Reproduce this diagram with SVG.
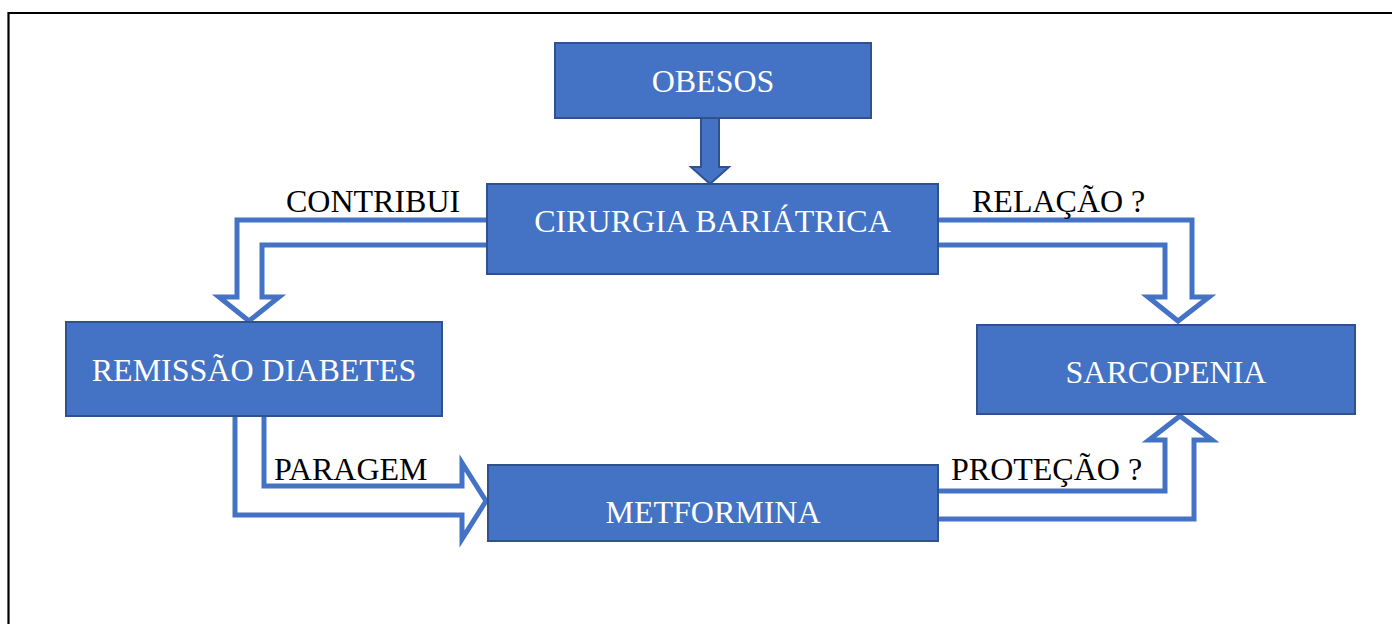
<svg xmlns="http://www.w3.org/2000/svg" width="1392" height="624" viewBox="0 0 1392 624">
  <style>
    .box { fill: #4472C4; stroke: #2F528F; stroke-width: 2; }
    .node-text { font-family: "Liberation Serif", "Times New Roman", serif; font-size: 32px; fill: #FFFFFF; text-anchor: middle; }
    .label { font-family: "Liberation Serif", "Times New Roman", serif; font-size: 32px; fill: #000000; }
    .hollow { fill: #FFFFFF; stroke: #4472C4; stroke-width: 5; stroke-linejoin: miter; }
    .solid { fill: #4472C4; stroke: #2F528F; stroke-width: 2; }
  </style>

  <rect x="0" y="0" width="1392" height="624" fill="#FFFFFF"/>
  <!-- page frame -->
  <path d="M8.5,624 V13 H1392" fill="none" stroke="#000000" stroke-width="2.2"/>

  <g id="connectors">
    <!-- OBESOS -> CIRURGIA -->
    <polygon class="solid" points="701,118 719,118 719,167 729,167 710,184 691,167 701,167"/>
    <!-- CIRURGIA -> REMISSAO (contribui) -->
    <polygon class="hollow" points="492,220 237,220 237,297 219,297 249,321 279,297 262,297 262,245 492,245"/>
    <!-- CIRURGIA -> SARCOPENIA (relacao) -->
    <polygon class="hollow" points="933,220 1192,220 1192,297 1209,297 1178,321 1148,297 1165,297 1165,245 933,245"/>
    <!-- REMISSAO -> METFORMINA (paragem) -->
    <polygon class="hollow" points="235,412 235,515 462,515 462,539 486,501 462,463 462,486 264,486 264,412"/>
    <!-- METFORMINA -> SARCOPENIA (protecao) -->
    <polygon class="hollow" points="933,491 1165,491 1165,440 1149,440 1180,416 1212,440 1194,440 1194,519 933,519"/>
  </g>

  <g id="obesos">
    <rect class="box" x="555" y="43" width="316" height="75"/>
    <text class="node-text" x="713" y="92">OBESOS</text>
  </g>

  <g id="cirurgia">
    <rect class="box" x="487" y="184" width="451" height="90"/>
    <text class="node-text" x="712.5" y="232">CIRURGIA BARIÁTRICA</text>
  </g>

  <g id="remissao">
    <rect class="box" x="66" y="322" width="376" height="94"/>
    <text class="node-text" x="254" y="381">REMISSÃO DIABETES</text>
  </g>

  <g id="sarcopenia">
    <rect class="box" x="977" y="325" width="378" height="89"/>
    <text class="node-text" x="1166" y="383">SARCOPENIA</text>
  </g>

  <g id="metformina">
    <rect class="box" x="488" y="465" width="450" height="76"/>
    <text class="node-text" x="713" y="523">METFORMINA</text>
  </g>

  <g id="labels">
    <text class="label" x="286" y="212">CONTRIBUI</text>
    <text class="label" x="972" y="212">RELAÇÃO ?</text>
    <text class="label" x="274" y="480">PARAGEM</text>
    <text class="label" x="951" y="480">PROTEÇÃO ?</text>
  </g>
</svg>
